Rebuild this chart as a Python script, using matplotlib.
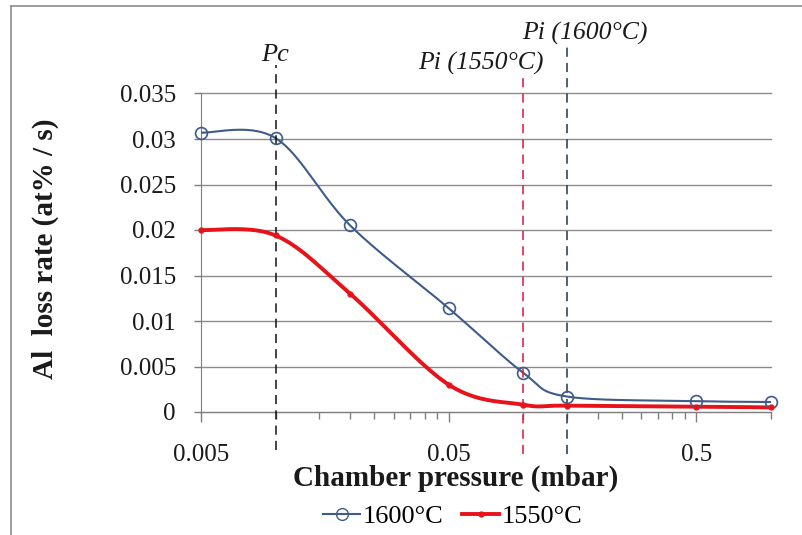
import numpy as np
import matplotlib
matplotlib.use("Agg")
import matplotlib.pyplot as plt
from matplotlib.lines import Line2D
from matplotlib.ticker import FixedLocator, NullFormatter

# pressure (mbar) and Al loss rate (at% / s)
pressure = [0.005, 0.01, 0.02, 0.05, 0.1, 0.15, 0.5, 1.0]
rate_1600 = [0.0307, 0.0301, 0.0205, 0.0114, 0.0043, 0.0017, 0.0012, 0.0011]
rate_1550 = [0.0200, 0.0194, 0.0130, 0.0030, 0.0008, 0.0007, 0.0006, 0.0005]

x_major = [0.005, 0.05, 0.5]
x_major_labels = ["0.005", "0.05", "0.5"]
y_ticks = [0, 0.005, 0.01, 0.015, 0.02, 0.025, 0.03, 0.035]
y_labels = ["0", "0.005", "0.01", "0.015", "0.02", "0.025", "0.03", "0.035"]

p_c = 0.01
p_i_1550 = 0.1
p_i_1600 = 0.15

BLUE = "#3f5b8a"
RED = "#e8121b"
SERIF = ["Liberation Serif", "DejaVu Serif"]


def smooth(xs, ys, n=40):
    # Excel-style smoothed line: Catmull-Rom through the points, in log-x space
    u = np.log10(xs)
    v = np.asarray(ys, float)
    pu = np.concatenate([[u[0]], u, [u[-1]]])
    pv = np.concatenate([[v[0]], v, [v[-1]]])
    outu, outv = [], []
    t = np.linspace(0, 1, n)
    for i in range(1, len(pu) - 2):
        p0, p1, p2, p3 = [np.array([pu[j], pv[j]]) for j in range(i - 1, i + 3)]
        c1 = p1 + (p2 - p0) / 6
        c2 = p2 - (p3 - p1) / 6
        b = ((1 - t) ** 3)[:, None] * p1 + (3 * (1 - t) ** 2 * t)[:, None] * c1 \
            + (3 * (1 - t) * t ** 2)[:, None] * c2 + (t ** 3)[:, None] * p2
        outu.extend(b[:, 0])
        outv.extend(b[:, 1])
    return 10 ** np.array(outu), np.array(outv)


fig = plt.figure(figsize=(8.02, 5.35), dpi=100)
ax = fig.add_axes([201 / 802, 1 - 412 / 535, 570 / 802, 318.5 / 535])

ax.set_xscale("log")
ax.set_xlim(0.005, 1.0)
ax.set_ylim(0, 0.035)

for s in ["top", "right"]:
    ax.spines[s].set_visible(False)
ax.spines["left"].set_color("#7f7f7f")
ax.spines["bottom"].set_color("#7f7f7f")

ax.yaxis.grid(True, color="#8c8c8c", lw=1.0)
for gl in ax.get_ygridlines():
    gl.set_clip_on(False)
ax.set_axisbelow(True)

ax.xaxis.set_major_locator(FixedLocator(x_major))
ax.set_xticklabels(x_major_labels)
minors = [0.005 * k for k in range(2, 10)] + [0.05 * k for k in range(2, 10)] + [0.5 * 2]
ax.xaxis.set_minor_locator(FixedLocator(minors))
ax.xaxis.set_minor_formatter(NullFormatter())
ax.set_yticks(y_ticks)
ax.set_yticklabels(y_labels)

ax.tick_params(axis="x", which="major", direction="out", length=7, width=1,
               color="#7f7f7f", pad=16, labelsize=18)
ax.tick_params(axis="x", which="minor", direction="out", length=5, width=1,
               color="#7f7f7f")
ax.tick_params(axis="y", direction="out", length=5, width=1, color="#7f7f7f",
               pad=13, labelsize=18)
for lab in ax.get_xticklabels() + ax.get_yticklabels():
    lab.set_family(SERIF)
    lab.set_color("#1a1a1a")

# smoothed series
sx, sy = smooth(pressure, rate_1600)
ax.plot(sx, sy, color=BLUE, lw=1.5, zorder=3)
ax.plot(pressure, rate_1600, ls="none", marker="o", ms=8.5, mfc="none",
        mec=BLUE, mew=1.2, zorder=5, clip_on=False)
sx, sy = smooth(pressure, rate_1550)
ax.plot(sx, sy, color=RED, lw=2.8, zorder=4)
ax.plot(pressure, rate_1550, ls="none", marker="o", ms=3.5, color=RED,
        zorder=5, clip_on=False)

# characteristic pressures
trans = ax.get_xaxis_transform()
ax.plot([p_c, p_c], [-0.119, 1.089], transform=trans, color="#111111",
        ls=(0, (6, 4)), lw=1.1, clip_on=False, zorder=4)
ax.plot([p_i_1550, p_i_1550], [-0.132, 1.064], transform=trans, color="#e0143c",
        ls=(0, (6, 4)), lw=1.1, clip_on=False, zorder=4)
ax.plot([p_i_1600, p_i_1600], [-0.132, 1.146], transform=trans, color="#1f3550",
        ls=(0, (6, 4)), lw=1.1, clip_on=False, zorder=4)

ax.text(p_c, 1.12, "Pc", transform=trans, ha="center", va="center",
        fontsize=19, style="italic", family=SERIF, color="#1a1a1a")
ax.text(0.0673, 1.095, "Pi (1550°C)", transform=trans, ha="center", va="center",
        fontsize=18.5, style="italic", family=SERIF, color="#1a1a1a")
ax.text(0.177, 1.187, "Pi (1600°C)", transform=trans, ha="center", va="center",
        fontsize=18.5, style="italic", family=SERIF, color="#1a1a1a")

fig.text(456 / 802, 1 - 478 / 535, "Chamber pressure (mbar)", ha="center",
         va="center", fontsize=21, fontweight="bold", family=SERIF, color="#1a1a1a")
fig.text(45 / 802, 1 - 249 / 535, "Al  loss rate (at% / s)", ha="center",
         va="center", rotation=90, fontsize=21, fontweight="bold", family=SERIF,
         color="#1a1a1a")

handles = [
    Line2D([], [], color=BLUE, lw=1.5, marker="o", ms=8.5, mfc="none", mec=BLUE),
    Line2D([], [], color=RED, lw=2.8, marker="o", ms=3.5),
]
leg = fig.legend(handles, ["1600°C", "1550°C"], loc="center",
                 bbox_to_anchor=(453 / 802, 1 - 516 / 535), ncol=2, frameon=False,
                 prop={"family": SERIF, "size": 19}, handlelength=1.4,
                 handletextpad=0.1, columnspacing=0.7)

# chart frame
fig.add_artist(Line2D([11 / 802, 11 / 802], [0, 1 - 6 / 535], color="#8c8c8c", lw=1.2))
fig.add_artist(Line2D([11 / 802, 1], [1 - 6 / 535, 1 - 6 / 535], color="#8c8c8c", lw=1.2))

fig.savefig("out.png", dpi=100)
